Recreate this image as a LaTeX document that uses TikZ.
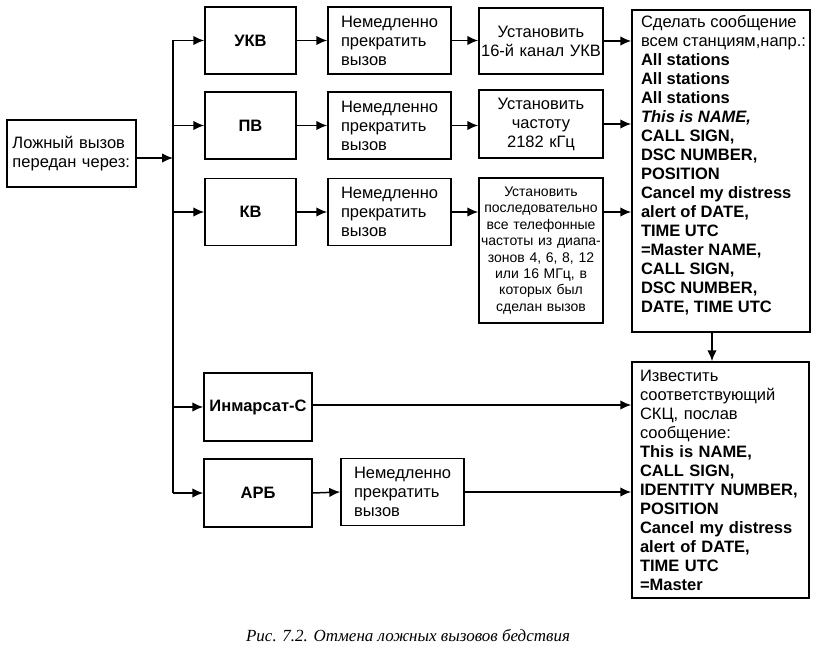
\documentclass[tikz,border=0pt]{standalone}
\usepackage{fontspec}
\setmainfont{Liberation Sans}
\newfontfamily\capfont{Liberation Serif}
\usetikzlibrary{arrows.meta}
\begin{document}
\begin{tikzpicture}[x=1pt,y=-1pt,
  box/.style={draw, line width=1.5pt, inner sep=0pt, font=\fontsize{16.5}{19}\selectfont},
  lbl/.style={box, font=\fontsize{16.5}{19}\selectfont\bfseries, minimum width=91pt, minimum height=67pt},
  stopbox/.style={box, text width=97pt, align=left, minimum width=123pt, minimum height=67pt},
  setbox/.style={box, text width=122pt, align=center, minimum width=124pt},
  arr/.style={line width=1.5pt, -{Latex[length=11pt,width=9.5pt]}},
  ln/.style={line width=1.5pt}]
\useasboundingbox (0,0) rectangle (836,655);

% source
\node[box, text width=118pt, align=left, minimum width=129pt, minimum height=67pt] (src) at (71.5,153.5)
  {Ложный вызов\\передан через:};

% channel boxes
\node[lbl] (b1) at (250.5,40.5) {УКВ};
\node[lbl] (b2) at (250.5,125.5) {ПВ};
\node[lbl] (b3) at (250.5,212) {КВ};
\node[lbl, minimum width=108pt, minimum height=68pt] (b4) at (258,407) {Инмарсат-С};
\node[lbl, minimum width=108pt, minimum height=68pt] (b5) at (258,493) {АРБ};

% stop boxes
\node[stopbox] (s1) at (389.5,40.5) {Немедленно\\прекратить\\вызов};
\node[stopbox] (s2) at (389.5,125.5) {Немедленно\\прекратить\\вызов};
\node[stopbox] (s3) at (389.5,212) {Немедленно\\прекратить\\вызов};
\node[stopbox] (s5) at (402.5,492) {Немедленно\\прекратить\\вызов};

% set boxes
\node[setbox, minimum height=66pt] (u1) at (541,41) {Установить\\16-й канал УКВ};
\node[setbox, minimum height=68pt] (u2) at (541,124) {Установить\\частоту\\2182 кГц};
\node[setbox, minimum height=145pt, font=\fontsize{14}{16.4}\selectfont] (u3) at (541,250.5)
  {Установить\\последовательно\\все телефонные\\частоты из диапа-\\зонов 4, 6, 8, 12\\или 16 МГц, в\\которых был\\сделан вызов};

% message box
\node[box, minimum width=178pt, minimum height=322pt] (big) at (721,171)
  {\parbox[c][312pt][t]{160pt}{\raggedright
   Сделать сообщение\\
   \mbox{всем станциям,напр.:}\\
   \textbf{All stations}\\
   \textbf{All stations}\\
   \textbf{All stations}\\
   \textbf{\itshape This is NAME,}\\
   \textbf{CALL SIGN,}\\
   \textbf{DSC NUMBER,}\\
   \textbf{POSITION}\\
   \textbf{Cancel my distress}\\
   \textbf{alert of DATE,}\\
   \textbf{TIME UTC}\\
   \textbf{=Master NAME,}\\
   \textbf{CALL SIGN,}\\
   \textbf{DSC NUMBER,}\\
   \textbf{DATE, TIME UTC}}};

\node[box, text width=161pt, align=left, minimum width=177pt, minimum height=236pt] (skc) at (720.5,480)
  {Известить\\
   соответствующий\\
   СКЦ, послав\\
   сообщение:\\
   \textbf{This is NAME,}\\
   \textbf{CALL SIGN,}\\
   \textbf{IDENTITY NUMBER,}\\
   \textbf{POSITION}\\
   \textbf{Cancel my distress}\\
   \textbf{alert of DATE,}\\
   \textbf{TIME UTC}\\
   \textbf{=Master}};

% caption
\node[anchor=base, inner sep=0pt, font=\capfont\itshape\fontsize{17}{19}\selectfont] (cap) at (408,641)
  {Рис. 7.2. Отмена ложных вызовов бедствия};

% bus
\coordinate (bus) at (173,0);
\coordinate (j0) at (173,158);
\draw[ln] (bus |- b1) -- (bus |- b5);
\draw[arr] (src.east |- j0) -- (j0);
\foreach \b in {b1,b2,b3,b4,b5} \draw[arr] (bus |- \b) -- (\b.west);

% rows
\draw[arr] (b1.east) -- (s1.west);
\draw[arr] (b2.east) -- (s2.west);
\draw[arr] (b3.east) -- (s3.west);
\draw[arr] (b5.east) -- (s5.west);

\draw[arr] (s1.east) -- (u1.west |- s1.east);
\draw[arr] (s2.east) -- (u2.west |- s2.east);
\draw[arr] (s3.east) -- (u3.west |- s3.east);

\draw[arr] (u1.east) -- (big.west |- u1.east);
\draw[arr] (u2.east) -- (big.west |- u2.east);
\draw[arr] (u3.east |- s3.east) -- (big.west |- s3.east);

\coordinate (m4) at (0,405);
\draw[arr] (b4.east |- m4) -- (skc.west |- m4);
\draw[arr] (s5.east) -- (skc.west |- s5.east);

\draw[arr] ([xshift=-9pt]big.south) -- ([xshift=-9pt]big.south |- skc.north);
\end{tikzpicture}
\end{document}
